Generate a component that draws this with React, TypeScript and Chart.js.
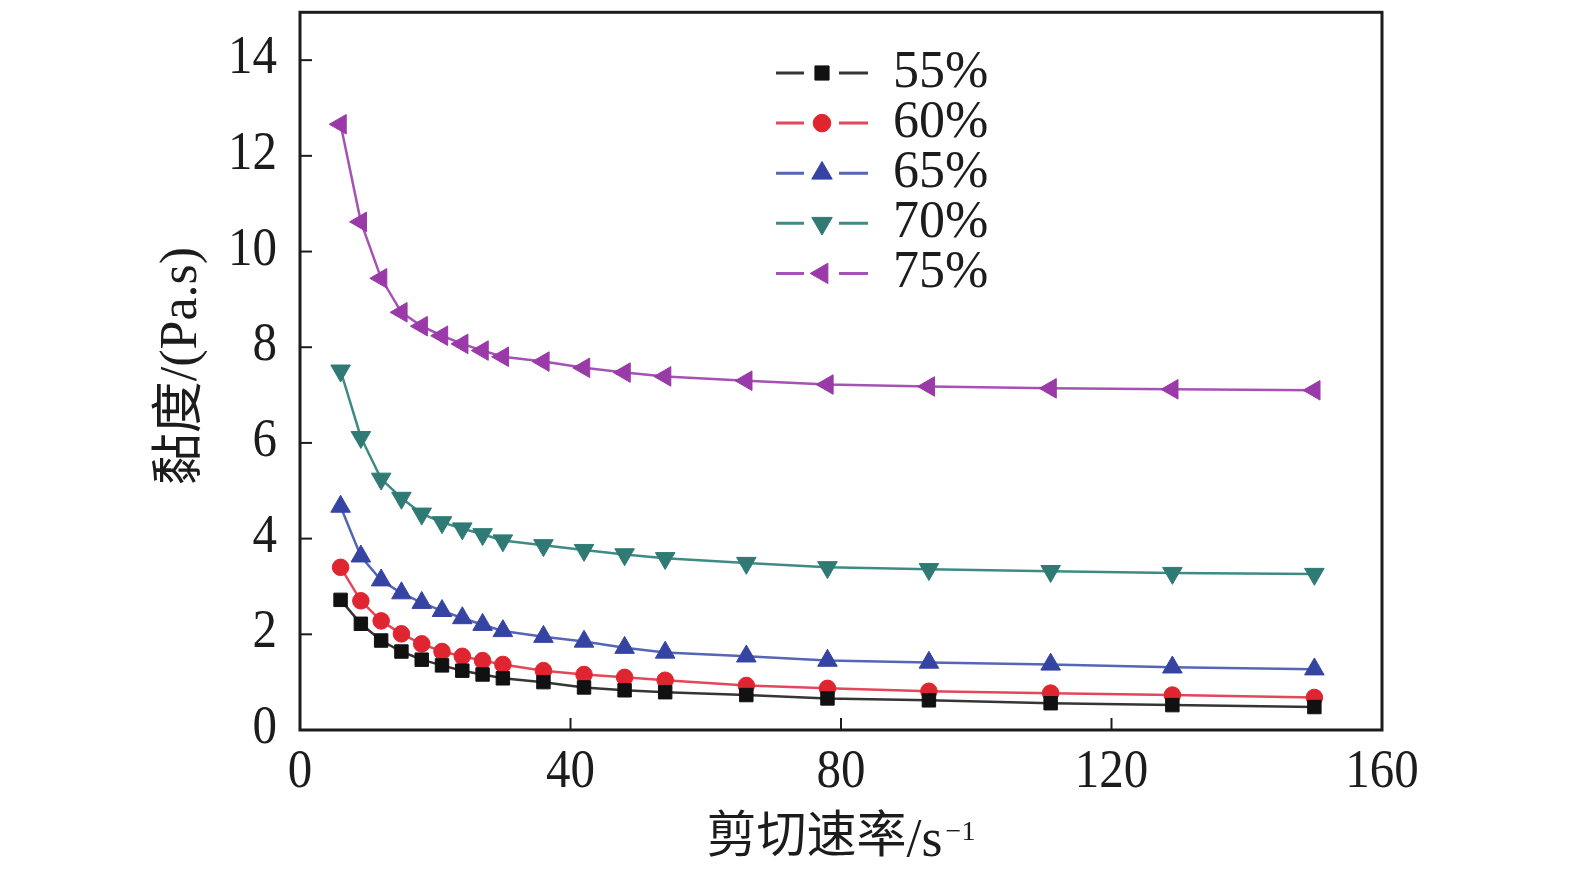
import { useEffect, useRef } from 'react'
import Chart from 'chart.js/auto'
import { drawPoint } from 'chart.js/helpers'

const shearRate = [6, 9, 12, 15, 18, 21, 24, 27, 30, 36, 42, 48, 54, 66, 78, 93, 111, 129, 150]

const v55 = [2.72, 2.22, 1.87, 1.64, 1.47, 1.35, 1.24, 1.16, 1.08, 1.0, 0.89, 0.83, 0.79, 0.73, 0.66, 0.62, 0.56, 0.52, 0.48]
const v60 = [3.4, 2.7, 2.28, 2.01, 1.8, 1.64, 1.54, 1.45, 1.37, 1.24, 1.16, 1.1, 1.04, 0.93, 0.87, 0.81, 0.77, 0.73, 0.68]
const v65 = [4.67, 3.63, 3.13, 2.86, 2.66, 2.49, 2.34, 2.2, 2.07, 1.95, 1.85, 1.72, 1.62, 1.54, 1.45, 1.41, 1.37, 1.31, 1.27]
const v70 = [7.51, 6.12, 5.25, 4.85, 4.52, 4.34, 4.21, 4.09, 3.96, 3.86, 3.76, 3.67, 3.59, 3.49, 3.4, 3.36, 3.32, 3.28, 3.26]
const v75 = [12.66, 10.62, 9.44, 8.73, 8.44, 8.24, 8.07, 7.93, 7.8, 7.7, 7.57, 7.47, 7.39, 7.3, 7.22, 7.18, 7.14, 7.12, 7.1]

const seriesLabels = ['55%', '60%', '65%', '70%', '75%']
const xTicks = [0, 40, 80, 120, 160]
const yTicks = [0, 2, 4, 6, 8, 10, 12, 14]

const SERIF = '"Liberation Serif", "Times New Roman", "Noto Sans CJK SC", serif'
const CJK = '"Noto Sans CJK SC", "Liberation Serif", serif'
const INK = '#1c1c1c'

const toPoints = (ys: number[]) => shearRate.map((x, i) => ({ x, y: ys[i] }))

// text in the original figure is a bit taller than it is wide
const stretchedText = (ctx: CanvasRenderingContext2D, s: string, x: number, y: number, sy: number) => {
  ctx.save()
  ctx.translate(x, y)
  ctx.scale(1, sy)
  ctx.fillText(s, 0, 0)
  ctx.restore()
}

// frame, inward tick marks (left / bottom only), tick labels, titles
const framePlugin = {
  id: 'frame',
  beforeDatasetsDraw(chart: any) {
    const { ctx, chartArea: a, scales } = chart
    ctx.save()
    ctx.strokeStyle = INK
    ctx.fillStyle = INK
    ctx.lineWidth = 2
    ctx.font = `49px ${SERIF}`
    ctx.textBaseline = 'middle'

    ctx.textAlign = 'center'
    for (const v of xTicks) {
      const px = scales.x.getPixelForValue(v)
      ctx.beginPath()
      ctx.moveTo(px, a.bottom)
      ctx.lineTo(px, a.bottom - 12)
      ctx.stroke()
      stretchedText(ctx, String(v), px, a.bottom + 43, 1.12)
    }
    ctx.textAlign = 'right'
    for (const v of yTicks) {
      const py = scales.y.getPixelForValue(v)
      ctx.beginPath()
      ctx.moveTo(a.left, py)
      ctx.lineTo(a.left + 12, py)
      ctx.stroke()
      stretchedText(ctx, String(v), a.left - 23, py - 1, 1.1)
    }
    ctx.lineWidth = 3
    ctx.strokeRect(a.left, a.top, a.right - a.left, a.bottom - a.top)

    // y title
    ctx.textAlign = 'center'
    ctx.font = `52px ${SERIF}`
    ctx.save()
    ctx.translate(182, 366)
    ctx.rotate(-Math.PI / 2)
    ctx.fillText('黏度/(Pa.s)', 0, 0)
    ctx.restore()

    // x title: 剪切速率/s^-1
    const cjk = '剪切速率'
    const unit = '/s'
    const sup = '−1'
    ctx.font = `50px ${CJK}`
    const w1 = ctx.measureText(cjk).width
    ctx.font = `54px ${SERIF}`
    const w2 = ctx.measureText(unit).width
    ctx.font = `28px ${SERIF}`
    const w3 = ctx.measureText(sup).width
    const x0 = (a.left + a.right) / 2 - (w1 + w2 + w3 + 3) / 2
    ctx.textAlign = 'left'
    ctx.textBaseline = 'alphabetic'
    ctx.font = `50px ${CJK}`
    ctx.fillText(cjk, x0, 852)
    ctx.font = `54px ${SERIF}`
    ctx.fillText(unit, x0 + w1, 856)
    ctx.font = `28px ${SERIF}`
    ctx.fillText(sup, x0 + w1 + w2 + 3, 840)
    ctx.restore()
  },
}

const legendPlugin = {
  id: 'lineLegend',
  afterDraw(chart: any) {
    const { ctx } = chart
    ctx.save()
    chart.data.datasets.forEach((ds: any, i: number) => {
      const y = 73 + i * 50.1
      ctx.strokeStyle = ds.borderColor
      ctx.lineWidth = 3
      ctx.beginPath()
      ctx.moveTo(776, y)
      ctx.lineTo(804, y)
      ctx.moveTo(839, y)
      ctx.lineTo(868, y)
      ctx.stroke()
      ctx.fillStyle = ds.pointBackgroundColor
      ctx.strokeStyle = ds.pointBorderColor
      ctx.lineWidth = 1
      drawPoint(ctx, {
        pointStyle: ds.pointStyle,
        rotation: ds.pointRotation,
        radius: ds.pointRadius + 0.5,
        borderWidth: 1,
      }, 822, y)
      ctx.fillStyle = INK
      ctx.font = `52px ${SERIF}`
      ctx.textAlign = 'left'
      ctx.textBaseline = 'middle'
      ctx.fillText(ds.label, 893, y)
    })
    ctx.restore()
  },
}

export default function App() {
  const chartRef = useRef<HTMLCanvasElement>(null)

  useEffect(() => {
    if (!chartRef.current) return
    const ctx = chartRef.current.getContext('2d')
    if (!ctx) return

    const mk = (i: number, ys: number[], line: string, fill: string, style: string, rot: number, r: number) => ({
      label: seriesLabels[i],
      data: toPoints(ys),
      borderColor: line,
      borderWidth: 2.5,
      pointBackgroundColor: fill,
      pointBorderColor: fill,
      pointBorderWidth: 1,
      pointStyle: style,
      pointRotation: rot,
      pointRadius: r,
      tension: 0,
    })

    const chart = new Chart(ctx, {
      type: 'line',
      data: {
        datasets: [
          mk(0, v55, '#353535', '#111111', 'rect', 0, 9.5),
          mk(1, v60, '#e2475a', '#df2630', 'circle', 0, 8.3),
          mk(2, v65, '#5566b8', '#3543a3', 'triangle', 0, 11.3),
          mk(3, v70, '#3f8a84', '#2f7a74', 'triangle', 180, 11.3),
          mk(4, v75, '#a552b5', '#9a3aa8', 'triangle', 270, 11.3),
        ],
      },
      plugins: [framePlugin, legendPlugin],
      options: {
        responsive: false,
        animation: false,
        devicePixelRatio: 1,
        layout: { padding: { left: 0, top: 3, right: 193, bottom: 0 } },
        plugins: {
          legend: { display: false },
          tooltip: { enabled: false },
        },
        scales: {
          x: {
            type: 'linear',
            min: 0,
            max: 160,
            grid: { display: false },
            border: { display: false },
            afterBuildTicks: (s: any) => {
              s.ticks = xTicks.map((value) => ({ value }))
            },
            afterFit: (s: any) => {
              s.height = 148
              s.paddingLeft = 0
              s.paddingRight = 0
            },
            ticks: { display: false },
          },
          y: {
            type: 'linear',
            min: 0,
            max: 15,
            grid: { display: false },
            border: { display: false },
            afterBuildTicks: (s: any) => {
              s.ticks = yTicks.map((value) => ({ value }))
            },
            afterFit: (s: any) => {
              s.width = 300
              s.paddingTop = 0
              s.paddingBottom = 0
            },
            ticks: { display: false },
          },
        },
      },
    })

    return () => chart.destroy()
  }, [])

  return (
    <div style={{ position: 'absolute', left: 0, top: 0, width: 1575, height: 878, background: '#fff' }}>
      <canvas ref={chartRef} width={1575} height={878} />
    </div>
  )
}
